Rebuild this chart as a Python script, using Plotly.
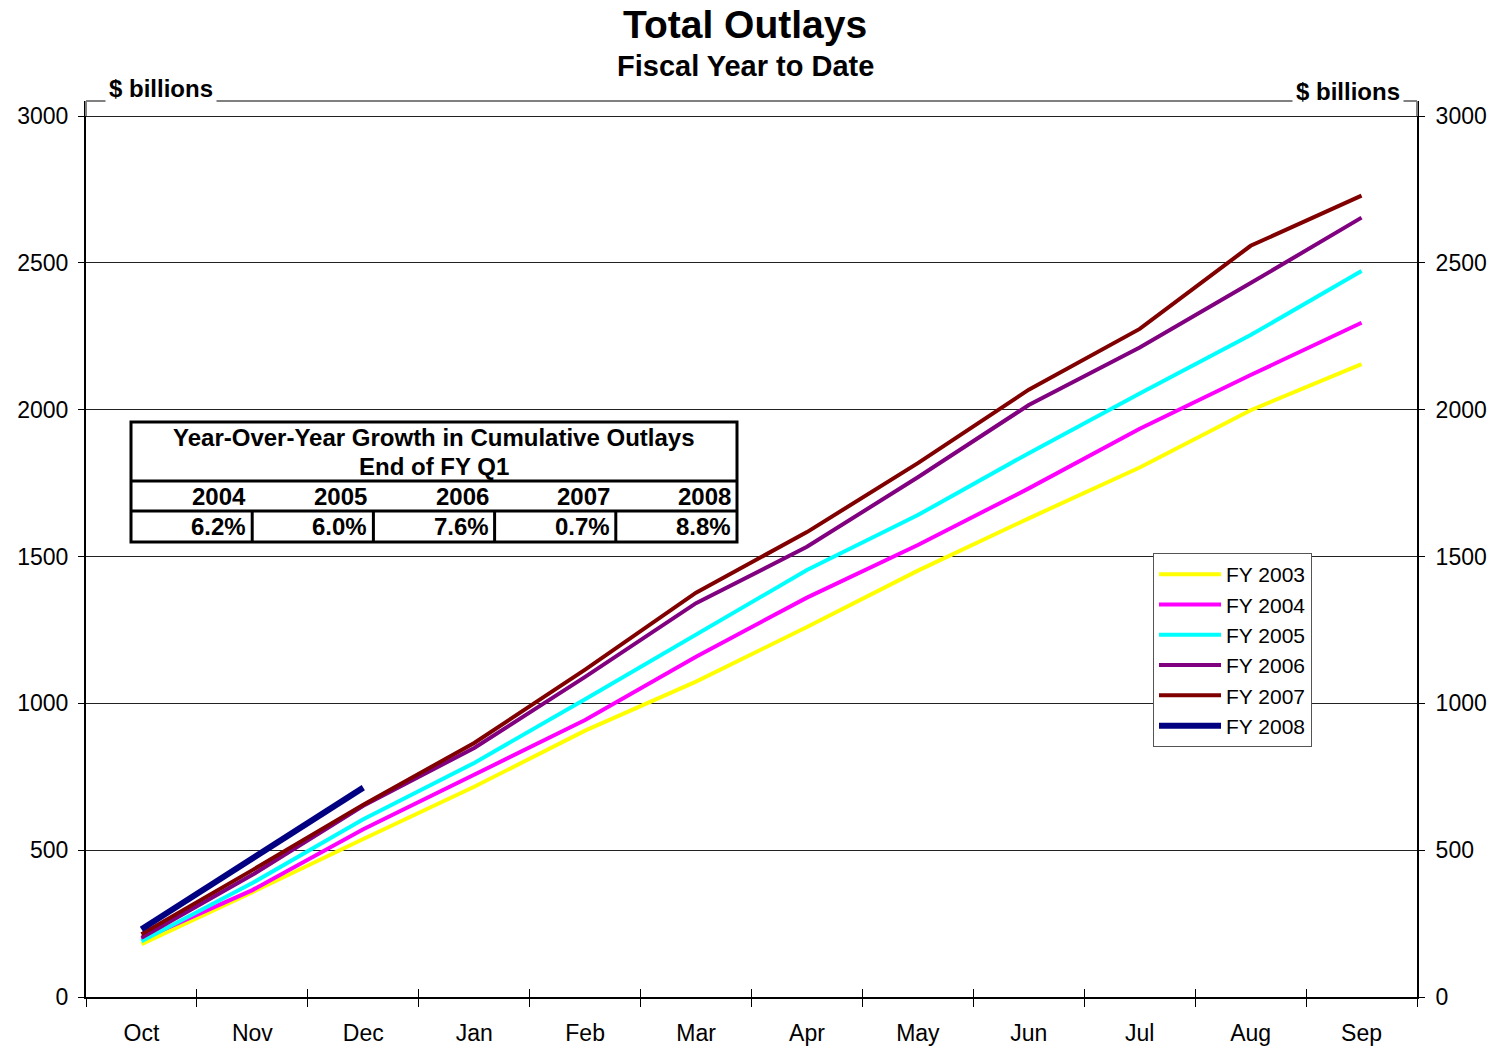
import plotly.graph_objects as go

# ---------------- data ----------------
months = ['Oct', 'Nov', 'Dec', 'Jan', 'Feb', 'Mar', 'Apr', 'May', 'Jun', 'Jul', 'Aug', 'Sep']
fy2003 = [180, 357, 538, 716, 907, 1074, 1260, 1452, 1630, 1803, 1998, 2155]
fy2004 = [196, 364, 571, 756, 943, 1159, 1360, 1539, 1732, 1935, 2118, 2296]
fy2005 = [190, 388, 605, 797, 1014, 1233, 1454, 1641, 1852, 2055, 2254, 2472]
fy2006 = [202, 416, 651, 848, 1090, 1341, 1533, 1770, 2016, 2212, 2431, 2654]
fy2007 = [214, 432, 655, 865, 1115, 1377, 1583, 1818, 2068, 2275, 2558, 2729]
fy2008 = [231, 475, 713]

series_names = ['FY 2003', 'FY 2004', 'FY 2005', 'FY 2006', 'FY 2007', 'FY 2008']
series_values = [fy2003, fy2004, fy2005, fy2006, fy2007, fy2008]
series_colors = ['#FFFF00', '#FF00FF', '#00FFFF', '#800080', '#800000', '#000080']
series_widths = [4, 4, 4, 4, 4, 6]

table_years = ['2004', '2005', '2006', '2007', '2008']
table_growth = ['6.2%', '6.0%', '7.6%', '0.7%', '8.8%']
y_ticks = [0, 500, 1000, 1500, 2000, 2500, 3000]

# ---------------- layout helpers ----------------
W, H = 1497, 1047
L, R, T, B = 86, 1417, 101, 997          # plot area in pixels
Y3000 = 116                               # pixel row of the 3000 gridline
YMAX = 3000 * (B - T) / (B - Y3000)


def px(x):
    return (x - L) / (R - L)


def py(y):
    return (B - y) / (B - T)


FONT = 'Liberation Sans, Arial, sans-serif'

fig = go.Figure()
for name, vals, col, wd in zip(series_names, series_values, series_colors, series_widths):
    fig.add_trace(go.Scatter(
        x=months[:len(vals)], y=vals, mode='lines', name=name,
        line=dict(color=col, width=wd),
    ))
# empty helper trace so the secondary (right / inner-tick) axes are drawn
fig.add_trace(go.Scatter(x=[], y=[], xaxis='x2', yaxis='y2', showlegend=False, hoverinfo='skip'))

annotations = []
shapes = []

# titles
annotations.append(dict(text='<b>Total Outlays</b>', x=px(745), y=py(25), xref='paper', yref='paper',
                        showarrow=False, font=dict(size=39, color='black', family=FONT),
                        xanchor='center', yanchor='middle'))
annotations.append(dict(text='<b>Fiscal Year to Date</b>', x=px(745), y=py(66), xref='paper', yref='paper',
                        showarrow=False, font=dict(size=29, color='black', family=FONT),
                        xanchor='center', yanchor='middle'))

# top frame line (gray) and axis unit labels
shapes.append(dict(type='line', xref='paper', yref='paper', x0=0, x1=1, y0=1, y1=1,
                   line=dict(color='#808080', width=2), layer='above'))
for xv in (0, 1):
    shapes.append(dict(type='line', xref='paper', yref='paper', x0=xv, x1=xv, y0=py(Y3000), y1=1,
                       line=dict(color='#808080', width=2), layer='above'))
for xc, yc in [(161, 89), (1348, 91)]:
    annotations.append(dict(text='<b>$ billions</b>', x=px(xc), y=py(yc), xref='paper', yref='paper',
                            showarrow=False, font=dict(size=24, color='black', family=FONT),
                            xanchor='center', yanchor='middle', bgcolor='white', borderpad=3))

# growth table
TL, TR, TT, TB = 131, 737, 422, 542
ncol = len(table_years)
cw = (TR - TL) / ncol
shapes.append(dict(type='rect', xref='paper', yref='paper', x0=px(TL), x1=px(TR), y0=py(TB), y1=py(TT),
                   line=dict(color='black', width=3), fillcolor='white', layer='above'))
for yl in (481, 511):
    shapes.append(dict(type='line', xref='paper', yref='paper', x0=px(TL), x1=px(TR), y0=py(yl), y1=py(yl),
                       line=dict(color='black', width=3), layer='above'))
for i in range(1, ncol):
    xv = TL + i * cw
    shapes.append(dict(type='line', xref='paper', yref='paper', x0=px(xv), x1=px(xv), y0=py(511), y1=py(TB),
                       line=dict(color='black', width=3), layer='above'))
for txt, yc in [('Year-Over-Year Growth in Cumulative Outlays', 437), ('End of FY Q1', 466)]:
    annotations.append(dict(text='<b>%s</b>' % txt, x=px((TL + TR) / 2), y=py(yc), xref='paper', yref='paper',
                            showarrow=False, font=dict(size=24, color='black', family=FONT),
                            xanchor='center', yanchor='middle'))
for i, (yr, g) in enumerate(zip(table_years, table_growth)):
    xr = TL + (i + 1) * cw - 4
    annotations.append(dict(text='<b>%s</b>' % yr, x=px(xr), y=py(496), xref='paper', yref='paper',
                            showarrow=False, font=dict(size=24, color='black', family=FONT),
                            xanchor='right', yanchor='middle'))
    annotations.append(dict(text='<b>%s</b>' % g, x=px(xr), y=py(526), xref='paper', yref='paper',
                            showarrow=False, font=dict(size=24, color='black', family=FONT),
                            xanchor='right', yanchor='middle'))

fig.update_layout(
    width=W, height=H,
    margin=dict(l=L, r=W - R, t=T, b=H - B, pad=0, autoexpand=False),
    paper_bgcolor='white', plot_bgcolor='white',
    font=dict(family=FONT, size=23, color='black'),
    showlegend=True,
    legend=dict(x=px(1153), y=py(553), xanchor='left', yanchor='top',
                bgcolor='white', bordercolor='#555555', borderwidth=1,
                font=dict(size=21, family=FONT, color='black'),
                tracegroupgap=0, itemwidth=62),
    xaxis=dict(type='category', categoryorder='array', categoryarray=months,
               range=[-0.5, len(months) - 0.5], automargin=False,
               showline=True, linecolor='black', linewidth=2,
               ticks='outside', ticklen=8, tickwidth=1, tickcolor='black', tickson='boundaries',
               showgrid=False, zeroline=False, ticklabelstandoff=14,
               tickfont=dict(size=23, family=FONT, color='black')),
    xaxis2=dict(overlaying='x', anchor='y', side='bottom', range=[-0.5, len(months) - 0.5],
                automargin=False,
                tickvals=[i - 0.5 for i in range(len(months) + 1)],
                ticks='inside', ticklen=8, tickwidth=1, tickcolor='black',
                showticklabels=False, showgrid=False, zeroline=False, showline=False),
    yaxis=dict(range=[0, YMAX], tickvals=y_ticks, showgrid=True, gridcolor='#222222', gridwidth=1,
               automargin=False,
               showline=True, linecolor='black', linewidth=2,
               ticks='outside', ticklen=6, tickcolor='black', zeroline=False, ticklabelstandoff=5,
               tickfont=dict(size=23, family=FONT, color='black')),
    yaxis2=dict(overlaying='y', side='right', anchor='x', range=[0, YMAX], tickvals=y_ticks,
                automargin=False,
                showgrid=False, showline=True, linecolor='black', linewidth=2,
                ticks='outside', ticklen=6, tickcolor='black', zeroline=False, ticklabelstandoff=6,
                tickfont=dict(size=23, family=FONT, color='black')),
    annotations=annotations,
    shapes=shapes,
)

fig.write_html('out.html', config={'displayModeBar': False},
               post_script="document.body.style.margin='0';")
